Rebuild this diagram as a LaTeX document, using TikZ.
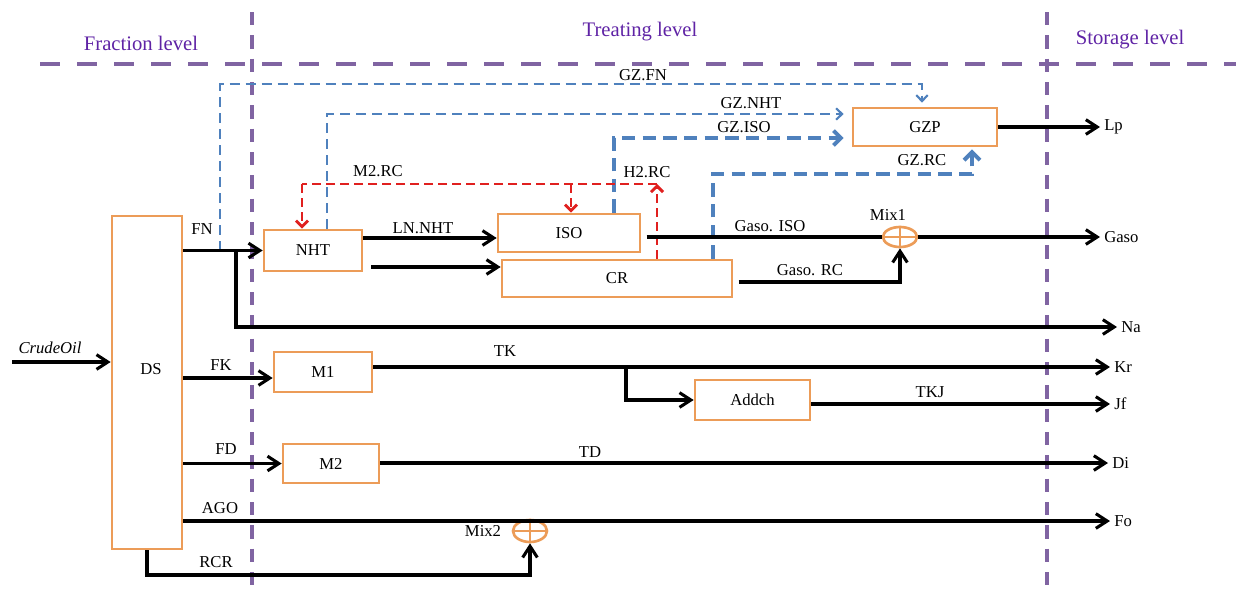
\documentclass[tikz,border=0pt]{standalone}
\usepackage{fontspec}
\setmainfont{Liberation Serif}
\usetikzlibrary{arrows.meta,shapes.geometric}
\definecolor{boxor}{RGB}{236,156,88}
\definecolor{lvlc}{RGB}{128,100,162}
\definecolor{lvltext}{RGB}{95,35,165}
\definecolor{gzblue}{RGB}{79,129,189}
\definecolor{h2red}{RGB}{224,32,31}
\tikzset{
 box/.style={draw=boxor,line width=2pt,inner sep=0pt,font=\fontsize{12.5}{14}\selectfont},
 mix/.style={ellipse,draw=boxor,line width=2pt,inner sep=0pt,minimum width=25.5pt,minimum height=15pt},
 lbl/.style={font=\fontsize{12.5}{14}\selectfont,inner sep=0pt},
 endlbl/.style={lbl,anchor=west,inner sep=3pt},
 lvltxt/.style={font=\fontsize{15.5}{18}\selectfont,text=lvltext,inner sep=0pt},
 lvlh/.style={draw=lvlc,line width=3pt,dash pattern=on 15pt off 12.75pt},
 lvlv/.style={draw=lvlc,line width=3pt,dash pattern=on 10pt off 7.5pt},
 flow/.style={draw=black,line width=2.3pt},
 arr/.style={flow,-{Straight Barb[length=8.5pt,width=11pt]}},
 gzthin/.style={draw=gzblue,line width=1.6pt,dash pattern=on 7.5pt off 4.5pt,-{Straight Barb[length=4.5pt,width=8.5pt]}},
 gzthick/.style={draw=gzblue,line width=3pt,dash pattern=on 10pt off 5.5pt},
 h2/.style={draw=h2red,line width=2.2pt,dash pattern=on 6.5pt off 4pt},
 h2arr/.style={h2,-{Straight Barb[length=4.5pt,width=9pt]}},
}
\begin{document}
\begin{tikzpicture}[x=0.75pt,y=-0.75pt]
\useasboundingbox (0,0) rectangle (1236,590);

% level separators
\draw[lvlh] (40,64) -- (1236,64);
\draw[lvlv] (252,12) -- (252,590);
\draw[lvlv] (1047,12) -- (1047,590);
\node[lvltxt] (fraction) at (141,43) {Fraction level};
\node[lvltxt] (treating) at (640,32) {Treating level};
\node[lvltxt] (storage) at (1130,40) {Storage level};

% units
\node[box,minimum width=52.5pt,minimum height=249.75pt,label={[lbl,xshift=3pt,yshift=10pt]center:DS}] (DS) at (147,382.5) {};
\node[box,minimum width=73.5pt,minimum height=30.75pt] (NHT) at (313,250.5) {NHT};
\node[box,minimum width=106.5pt,minimum height=28.5pt] (ISO) at (569,233) {ISO};
\node[box,minimum width=172.5pt,minimum height=27.75pt] (CR) at (617,278.5) {CR};
\node[box,minimum width=108pt,minimum height=28.5pt] (GZP) at (925,127) {GZP};
\node[box,minimum width=73.5pt,minimum height=30pt] (M1) at (323,372) {M1};
\node[box,minimum width=72pt,minimum height=29.25pt] (M2) at (331,463.5) {M2};
\node[box,minimum width=86.25pt,minimum height=30pt] (Addch) at (752.5,400) {Addch};
\node[mix] (Mix1) at (900,237) {};
\node[mix,minimum height=16.5pt] (Mix2) at (530,531) {};
\draw[boxor,line width=1.6pt] (Mix1.north) -- (Mix1.south) (Mix1.west) -- (Mix1.east);
\draw[boxor,line width=1.6pt] (Mix2.north) -- (Mix2.south) (Mix2.west) -- (Mix2.east);

% products
\node[endlbl] (Lp) at (1100,127) {Lp};
\node[endlbl] (Gaso) at (1100,237) {Gaso};
\node[endlbl] (Na) at (1117,327) {Na};
\node[endlbl] (Kr) at (1110,367) {Kr};
\node[endlbl] (Jf) at (1110,404) {Jf};
\node[endlbl] (Di) at (1108,463) {Di};
\node[endlbl] (Fo) at (1110,521) {Fo};

% helper coordinates
\coordinate (crude) at (12,362);
\coordinate (yLN) at (0,238);
\coordinate (yCRin) at (0,267);
\coordinate (yRC) at (0,282);
\coordinate (yFK) at (0,378);
\coordinate (fnsplit) at (236,250.5);
\coordinate (gzfnstart) at (220,250.5);
\coordinate (gzfntop) at (220,84);
\coordinate (rcturnb) at (972,174);
\coordinate (h2top) at (657,184);
\coordinate (m2rcl) at (302,184);
\coordinate (isodrop) at (571,184);
\coordinate (tkbr) at (626,367);
\coordinate (rcrturn) at (300,575);

% gas (blue dashed)
\draw[gzthin,shorten >=3pt] (gzfnstart) -- (gzfntop) -| ([xshift=-2.25pt]GZP.north);
\draw[gzthin,shorten >=6pt] ([xshift=10.5pt]NHT.north) |- ([yshift=9.75pt]GZP.west);
\draw[gzthick,-{Straight Barb[length=5.5pt,width=11pt]},shorten >=6pt] ([xshift=33.75pt]ISO.north) |- ([yshift=-8.25pt]GZP.west);
\draw[gzthick,-{Straight Barb[length=6pt,width=12pt]},shorten >=1.5pt] ([xshift=72pt]CR.north) |- (rcturnb) -- ([xshift=35.25pt]GZP.south);

% hydrogen (red dashed)
\draw[h2arr] (CR.north -| h2top) -- (h2top);
\draw[h2] (h2top) -- (m2rcl);
\draw[h2arr] (m2rcl) -- (m2rcl |- NHT.north);
\draw[h2arr] (isodrop) -- (isodrop |- ISO.north);

% main flows
\draw[arr] (crude) -- (DS.west |- crude);
\draw[arr] (DS.east |- NHT.west) -- (NHT.west);
\draw[arr] (fnsplit) |- (Na.west);
\draw[arr] (NHT.east |- yLN) -- (ISO.west |- yLN);
\draw[arr,shorten <=6pt] (NHT.east |- yCRin) -- (CR.west |- yCRin);
\draw[flow,shorten <=4pt] (ISO.east |- Mix1.west) -- (Mix1.west);
\draw[arr] (Mix1.east) -- (Gaso.west);
\draw[arr,shorten <=4pt] (CR.east |- yRC) -| (Mix1.south);
\draw[arr] (GZP.east) -- (Lp.west);
\draw[arr] (DS.east |- yFK) -- (M1.west |- yFK);
\draw[arr] (M1.east |- Kr.west) -- (Kr.west);
\draw[arr] (tkbr) |- (Addch.west);
\draw[arr] (Addch.east |- Jf.west) -- (Jf.west);
\draw[arr] (DS.east |- M2.west) -- (M2.west);
\draw[arr] (M2.east |- Di.west) -- (Di.west);
\draw[arr] (DS.east |- Fo.west) -- (Fo.west);
\draw[arr] (DS.south) |- (rcrturn) -| (Mix2.south);

% stream labels
\node[lbl,font=\fontsize{12.5}{14}\selectfont\itshape] (lcrude) at (50,348) {CrudeOil};
\node[lbl] (lFN) at (202,229) {FN};
\node[lbl] (lFK) at (221,365) {FK};
\node[lbl] (lFD) at (226,449) {FD};
\node[lbl] (lAGO) at (220,508) {AGO};
\node[lbl] (lRCR) at (216,562) {RCR};
\node[lbl] (lMix2) at (483,531) {Mix2};
\node[lbl] (lM2RC) at (378,171) {M2.RC};
\node[lbl] (lLN) at (423,228) {LN.NHT};
\node[lbl] (lH2RC) at (647,172) {H2.RC};
\node[lbl] (lGZFN) at (643,75) {GZ.FN};
\node[lbl] (lGZNHT) at (751,103) {GZ.NHT};
\node[lbl] (lGZISO) at (744,127) {GZ.ISO};
\node[lbl] (lGZRC) at (922,160) {GZ.RC};
\node[lbl] (lGISO) at (770,226) {Gaso. ISO};
\node[lbl] (lGRC) at (810,270) {Gaso. RC};
\node[lbl] (lMix1) at (888,215) {Mix1};
\node[lbl] (lTK) at (505,351) {TK};
\node[lbl] (lTKJ) at (930,392) {TKJ};
\node[lbl] (lTD) at (590,452) {TD};
\end{tikzpicture}
\end{document}
